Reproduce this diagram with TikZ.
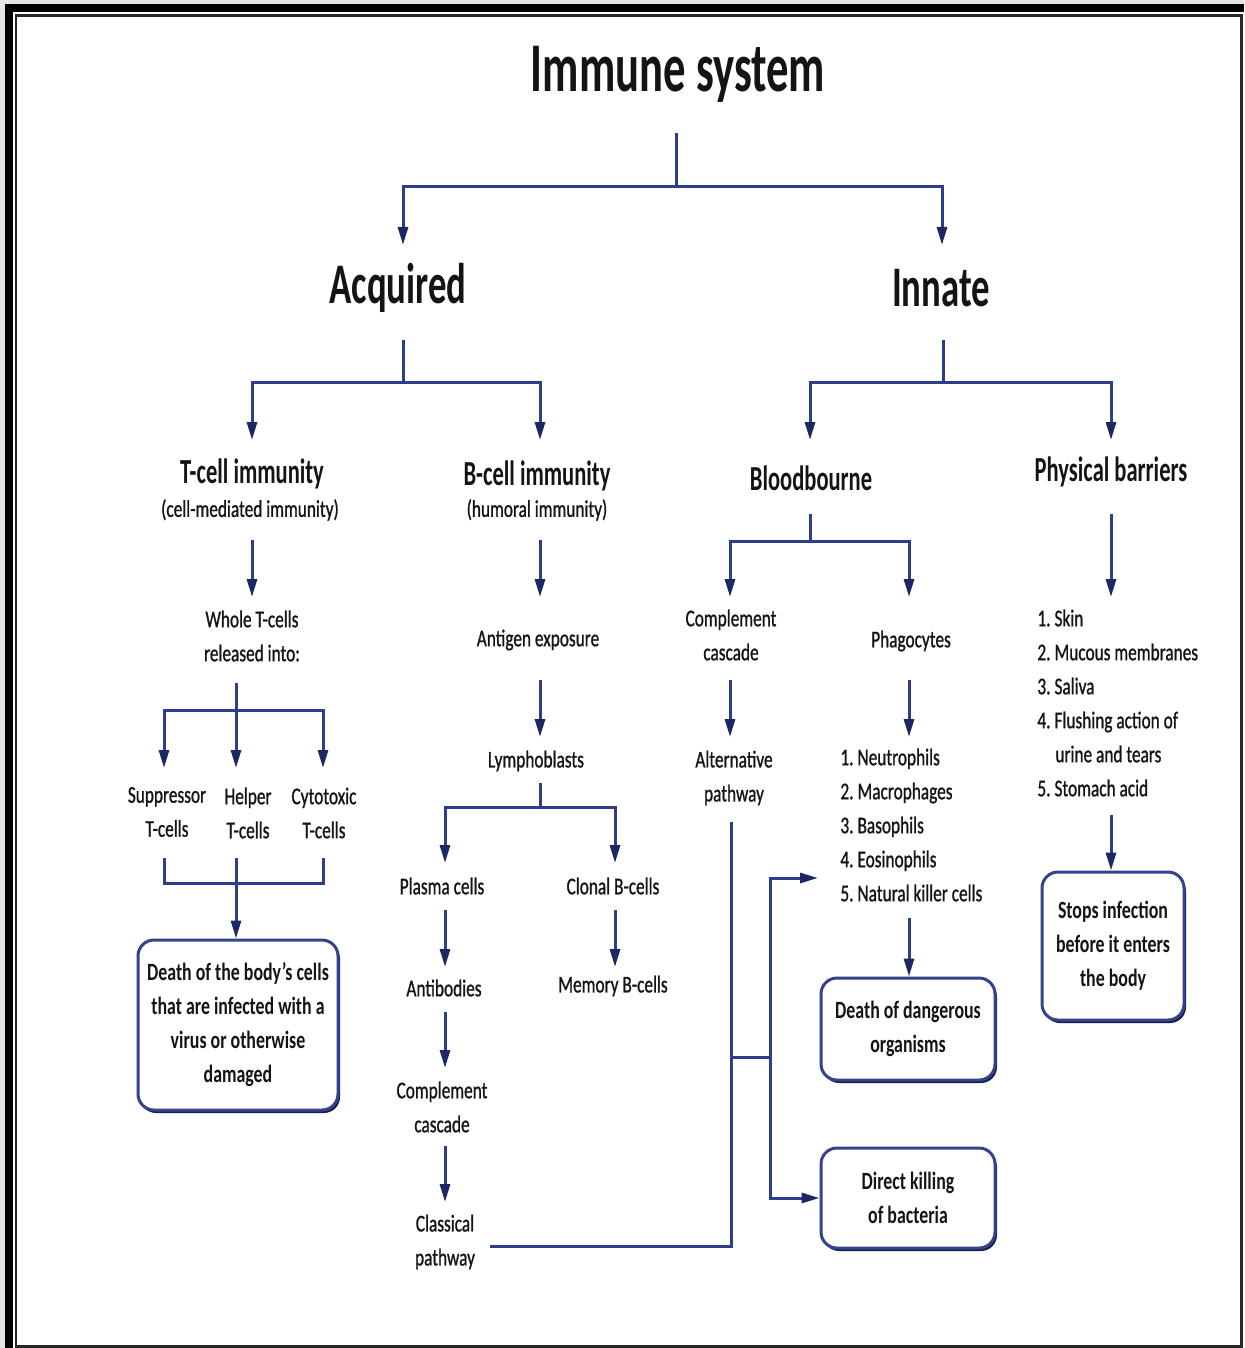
\documentclass[tikz,border=0pt]{standalone}
\usepackage{fontspec}
\setmainfont{Carlito}[FakeStretch=0.72,FakeBold=0.9]
\newfontfamily\headfont{Carlito}[FakeStretch=0.64]
\newfontfamily\boxfont{Carlito}[FakeStretch=0.72,Ligatures=TeX]
\usetikzlibrary{arrows.meta}

\definecolor{linkblue}{RGB}{44,62,140}
\definecolor{tipblue}{RGB}{28,40,100}
\definecolor{boxedge}{RGB}{52,68,140}
\definecolor{boxshade}{RGB}{24,30,70}
\definecolor{ink}{RGB}{20,20,20}

\begin{document}
\begin{tikzpicture}[x=0.5pt,y=-0.5pt,
  link/.style={draw=linkblue,line width=1.5pt},
  flow/.style={link,-{Triangle[length=9pt,width=5pt,color=tipblue]}},
  txt/.style={text=ink,font=\fontsize{12}{17}\selectfont,align=center,inner sep=0pt},
  listing/.style={txt,align=left,anchor=west},
  head/.style={text=ink,font=\headfont\bfseries\fontsize{17.6}{21}\selectfont,inner sep=0pt},
  big/.style={text=ink,font=\headfont\bfseries\fontsize{28.7}{34}\selectfont,inner sep=0pt},
  titletext/.style={text=ink,font=\headfont\bfseries\fontsize{34.9}{40}\selectfont,inner sep=0pt},
  endbox/.style={draw=boxedge,line width=1.5pt,rounded corners=8pt,fill=white,text=ink,
    font=\boxfont\bfseries\fontsize{12.4}{17}\selectfont,align=center,inner sep=0pt},
  shade/.style={fill=boxshade,rounded corners=8pt,inner sep=0pt}]

% page and frame
\useasboundingbox (0,0) rectangle (1244,1348);
\fill[black!10] (0,0) rectangle (1244,4);
\fill[black!10] (0,0) rectangle (5,1348);
\fill[black] (5,4) rectangle (13,1348);
\fill[black] (5,4) rectangle (1244,12);
\draw[black!85,line width=1.25pt] (16,15.5) rectangle (1241.5,1346.5);

% ---------- labels ----------
\node[titletext] (title) at (678,74) {Immune system};
\node[big] (acq) at (398,288) {Acquired};
\node[big] (inn) at (941,288) {Innate};

\node[head] (tcell) at (252,474) {T-cell immunity};
\node[txt] (tcell-sub) at (250,510) {(cell-mediated immunity)};
\node[head] (bcell) at (537,476) {B-cell immunity};
\node[txt] (bcell-sub) at (537,510) {(humoral immunity)};
\node[head] (blood) at (811,478) {Bloodbourne};
\node[head] (phys) at (1111,472) {Physical barriers};

\node[txt] (whole) at (252,636) {Whole T-cells\\released into:};
\node[txt] (antigen) at (538,640) {Antigen exposure};
\node[txt] (compl) at (731,635) {Complement\\cascade};
\node[txt] (phago) at (911,641) {Phagocytes};
\node[listing] (barr) at (1037,703) {1.\,Skin\\2.\,Mucous membranes\\3.\,Saliva\\4.\,Flushing action of\\\hspace*{9pt}urine and tears\\5.\,Stomach acid};

\node[txt] (supp) at (167,812) {Suppressor\\T-cells};
\node[txt] (help) at (248,813) {Helper\\T-cells};
\node[txt] (cyto) at (324,813) {Cytotoxic\\T-cells};
\node[txt] (lympho) at (536,761) {Lymphoblasts};
\node[txt] (alt) at (734,778) {Alternative\\pathway};
\node[listing] (cells) at (840,825) {1.\,Neutrophils\\2.\,Macrophages\\3.\,Basophils\\4.\,Eosinophils\\5.\,Natural killer cells};

\node[txt] (plasma) at (442,886) {Plasma cells};
\node[txt] (clonal) at (613,886) {Clonal B-cells};
\node[txt] (antib) at (444,988) {Antibodies};
\node[txt] (memory) at (613,986) {Memory B-cells};
\node[txt] (compl2) at (442,1107) {Complement\\cascade};
\node[txt] (classic) at (445,1242) {Classical\\pathway};

% ---------- outcome boxes ----------
\node[shade,minimum width=100pt,minimum height=85pt] (b1-sh) at (240,1028) {};
\node[endbox,minimum width=100pt,minimum height=85pt] (b1) at (238,1025)
  {Death of the body’s cells\\that are infected with a\\virus or otherwise\\damaged};
\node[shade,minimum width=87pt,minimum height=51pt] (b2-sh) at (910,1032) {};
\node[endbox,minimum width=87pt,minimum height=51pt] (b2) at (908,1029)
  {Death of dangerous\\organisms};
\node[shade,minimum width=87pt,minimum height=50pt] (b3-sh) at (910,1201) {};
\node[endbox,minimum width=87pt,minimum height=50pt] (b3) at (908,1198)
  {Direct killing\\of bacteria};
\node[shade,minimum width=71pt,minimum height=74pt] (b4-sh) at (1115,949) {};
\node[endbox,minimum width=71pt,minimum height=74pt] (b4) at (1113,946)
  {Stops infection\\before it enters\\the body};

% ---------- connector ports and junctions ----------
\coordinate (title-o) at (676,133);  \coordinate (j-top) at (676,187);
\coordinate (acq-i) at (403,245);    \coordinate (inn-i) at (942,245);
\coordinate (acq-o) at (403,340);    \coordinate (j-acq) at (403,382);
\coordinate (inn-o) at (943,340);    \coordinate (j-inn) at (943,382);
\coordinate (tcell-i) at (252,440);  \coordinate (bcell-i) at (540,440);
\coordinate (blood-i) at (810,440);  \coordinate (phys-i) at (1111,440);
\coordinate (tcell-o) at (252,540);  \coordinate (whole-i) at (252,597);
\coordinate (bcell-o) at (540,540);  \coordinate (antigen-i) at (540,597);
\coordinate (blood-o) at (810,514);  \coordinate (j-blood) at (810,541);
\coordinate (compl-i) at (730,597);  \coordinate (phago-i) at (909,597);
\coordinate (phys-o) at (1111,514);  \coordinate (barr-i) at (1111,597);
\coordinate (compl-o) at (730,680);  \coordinate (alt-i) at (730,737);
\coordinate (phago-o) at (909,680);  \coordinate (cells-i) at (909,737);
\coordinate (whole-o) at (236,683);  \coordinate (j-whole) at (236,710);
\coordinate (supp-i) at (164,768);   \coordinate (help-i) at (236,768);
\coordinate (cyto-i) at (323,768);
\coordinate (supp-o) at (164,858);   \coordinate (help-o) at (236,858);
\coordinate (cyto-o) at (323,858);   \coordinate (j-merge) at (236,883);
\coordinate (antigen-o) at (540,680); \coordinate (lympho-i) at (540,737);
\coordinate (lympho-o) at (540,783); \coordinate (j-lympho) at (540,807);
\coordinate (plasma-i) at (445,863); \coordinate (clonal-i) at (615,863);
\coordinate (plasma-o) at (445,910); \coordinate (antib-i) at (445,967);
\coordinate (clonal-o) at (615,910); \coordinate (memory-i) at (615,967);
\coordinate (antib-o) at (445,1012); \coordinate (compl2-i) at (445,1068);
\coordinate (compl2-o) at (445,1146); \coordinate (classic-i) at (445,1202);
\coordinate (classic-o) at (490,1246); \coordinate (alt-o) at (731,822);
\coordinate (j-alt) at (731,1057);   \coordinate (j-kill) at (770,1057);
\coordinate (cells-p) at (818,878);
\coordinate (cells-o) at (909,918);  \coordinate (barr-o) at (1111,815);

% ---------- connectors ----------
\draw[flow] (title-o) -- (j-top) -| (acq-i);
\draw[flow] (j-top) -| (inn-i);

\draw[flow] (acq-o) -- (j-acq) -| (tcell-i);
\draw[flow] (j-acq) -| (bcell-i);
\draw[flow] (inn-o) -- (j-inn) -| (blood-i);
\draw[flow] (j-inn) -| (phys-i);

\draw[flow] (tcell-o) -- (whole-i);
\draw[flow] (bcell-o) -- (antigen-i);
\draw[flow] (blood-o) -- (j-blood) -| (compl-i);
\draw[flow] (j-blood) -| (phago-i);
\draw[flow] (phys-o) -- (barr-i);

\draw[flow] (compl-o) -- (alt-i);
\draw[flow] (phago-o) -- (cells-i);

\draw[flow] (whole-o) -- (j-whole) -| (supp-i);
\draw[flow] (j-whole) -- (help-i);
\draw[flow] (j-whole) -| (cyto-i);
\draw[link] (supp-o) |- (j-merge) -| (cyto-o);
\draw[flow] (help-o) -- (help-o |- b1.north);

\draw[flow] (antigen-o) -- (lympho-i);
\draw[flow] (lympho-o) -- (j-lympho) -| (plasma-i);
\draw[flow] (j-lympho) -| (clonal-i);
\draw[flow] (plasma-o) -- (antib-i);
\draw[flow] (clonal-o) -- (memory-i);
\draw[flow] (antib-o) -- (compl2-i);
\draw[flow] (compl2-o) -- (classic-i);

\draw[link] (alt-o) |- (classic-o);
\draw[flow] (j-alt) -- (j-kill) |- (cells-p);
\draw[flow] (j-kill) |- (b3.west);
\draw[flow] (cells-o) -- (cells-o |- b2.north);
\draw[flow] (barr-o) -- (barr-o |- b4.north);
\end{tikzpicture}
\end{document}
